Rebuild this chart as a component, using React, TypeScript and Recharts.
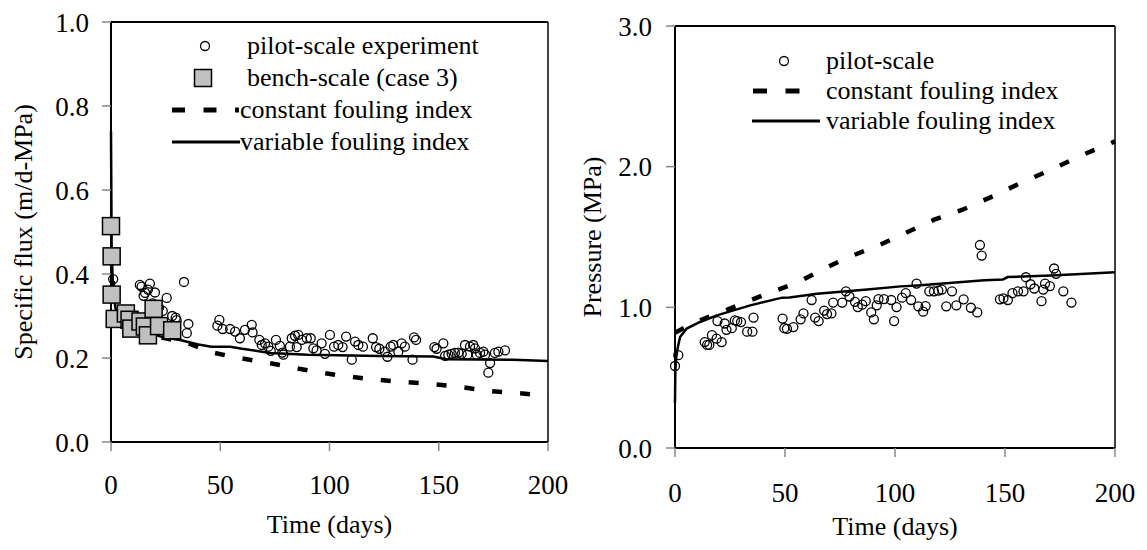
import React from 'react';
import { ComposedChart, Line, Scatter, XAxis, YAxis, ReferenceLine } from 'recharts';

const FONT = '"Liberation Serif", "Times New Roman", serif';

// ---- left panel: specific flux (days, m/d-MPa) ----
const fluxPilot: [number, number][] = [
    [1.0, 0.388], [13.2, 0.374], [14.0, 0.370], [14.9, 0.348], [15.6, 0.355], [16.9, 0.363], [17.8, 0.377],
    [19, 0.33], [20.1, 0.356], [22, 0.32], [23.7, 0.312], [25.5, 0.343], [28, 0.30], [29.6, 0.296], [30, 0.29],
    [33.4, 0.381], [34.7, 0.259], [35.4, 0.281], [48.7, 0.277], [49.6, 0.291], [51.1, 0.269], [54.5, 0.269],
    [56.8, 0.263], [59.0, 0.247], [61.3, 0.267], [64.4, 0.279], [64.8, 0.261], [67.9, 0.243], [69.0, 0.231],
    [70.5, 0.235], [72.0, 0.227], [73.1, 0.217], [75.5, 0.243], [77.3, 0.229], [78.4, 0.213], [78.9, 0.208],
    [81.9, 0.227], [82.7, 0.247], [84.2, 0.253], [85.0, 0.226], [85.7, 0.255], [87.3, 0.243], [89.6, 0.247],
    [91.4, 0.247], [92.6, 0.223], [94.1, 0.218], [96.4, 0.235], [97.9, 0.210], [100.2, 0.255], [102.1, 0.227],
    [104.0, 0.231], [106.0, 0.226], [107.6, 0.251], [110.2, 0.196], [111.7, 0.239], [113.2, 0.231], [115.3, 0.227],
    [119.8, 0.247], [121.3, 0.226], [122.8, 0.222], [125.4, 0.215], [126.5, 0.203], [128.0, 0.227], [129.2, 0.231],
    [131.5, 0.215], [133.0, 0.235], [134.5, 0.227], [138.0, 0.196], [138.7, 0.249], [139.6, 0.243], [148.0, 0.226],
    [149.0, 0.222], [152.1, 0.235], [152.9, 0.205], [154.4, 0.208], [155.9, 0.210], [157.4, 0.212], [159.0, 0.213],
    [160.5, 0.210], [162.0, 0.231], [163.1, 0.208], [164.3, 0.227], [165.8, 0.231], [166.6, 0.223], [167.4, 0.208],
    [168.9, 0.212], [170.4, 0.215], [171.2, 0.208], [172.7, 0.165], [173.5, 0.188], [175.7, 0.212], [177.3, 0.215],
    [180.3, 0.218],
];
const fluxBench: [number, number][] = [
    [0, 0.514], [0.3, 0.442], [0.3, 0.351], [1.7, 0.293], [6.8, 0.306], [8.5, 0.291], [9.3, 0.270],
    [13.5, 0.287], [15.5, 0.275], [16.9, 0.254], [19.5, 0.317], [22, 0.276], [28, 0.266],
];
const fluxConstant: [number, number][] = [
    [0.3, 0.45], [1, 0.36], [2, 0.32], [4, 0.30], [8, 0.28], [15, 0.262], [22, 0.250], [34.6, 0.237], [45, 0.215],
    [54.5, 0.204], [66.7, 0.193], [79.6, 0.181], [92.6, 0.168], [105.6, 0.158], [118.5, 0.150], [131, 0.144],
    [144.5, 0.139], [157.4, 0.133], [172, 0.122], [187, 0.116], [200, 0.110],
];
const fluxVariable: [number, number][] = [
    [0, 0.74], [0.3, 0.45], [1, 0.36], [2, 0.32], [4, 0.30], [8, 0.28], [15, 0.265], [20, 0.255], [25, 0.248],
    [31.6, 0.243], [40, 0.232], [46, 0.227], [54.5, 0.227], [60, 0.222], [72.8, 0.212], [90, 0.208], [123, 0.205],
    [147.5, 0.2035], [153.6, 0.197], [184, 0.196], [200, 0.193],
];

// ---- right panel: pressure (days, MPa) ----
const pressPilot: [number, number][] = [
    [0, 0.583], [1.5, 0.66], [13.5, 0.753], [14.6, 0.733], [15.6, 0.733], [16.8, 0.802], [18.9, 0.777], [19.3, 0.902],
    [21.2, 0.753], [22.6, 0.885], [23.4, 0.84], [25.8, 0.852], [27.2, 0.907], [28.3, 0.902], [30, 0.895], [32.8, 0.827],
    [35.2, 0.827], [35.7, 0.927], [48.9, 0.92], [49.7, 0.852], [50.9, 0.847], [53.8, 0.86], [57.1, 0.915], [58.4, 0.957],
    [62.1, 1.052], [63.7, 0.927], [65.3, 0.902], [67.8, 0.977], [69.1, 0.952], [71.1, 0.957], [71.9, 1.034], [76, 1.034],
    [77.7, 1.114], [79.3, 1.077], [81.8, 1.039], [83.1, 1.002], [85.1, 1.019], [86.7, 1.044], [89.2, 0.964], [90.4, 0.915],
    [91.7, 1.014], [92.5, 1.059], [95, 1.059], [98.3, 1.052], [99.6, 0.902], [100.7, 1.002], [103.2, 1.069], [104.9, 1.101],
    [107.3, 1.052], [109.8, 1.169], [110.6, 1.007], [112.8, 0.969], [113.9, 1.009], [115.6, 1.114], [117.7, 1.114],
    [119.7, 1.119], [121.3, 1.126], [123.3, 1.007], [125.9, 1.114], [127.9, 1.014], [131.2, 1.057], [134.5, 0.997],
    [137.4, 0.964], [138.6, 1.443], [139.4, 1.368], [147.7, 1.057], [149.3, 1.064], [151.3, 1.052], [153.4, 1.101],
    [155.9, 1.114], [158.4, 1.114], [159.5, 1.214], [161.6, 1.164], [163.3, 1.134], [166.6, 1.044], [167.4, 1.126],
    [168.2, 1.169], [170.4, 1.151], [172.3, 1.276], [173.2, 1.238], [176.5, 1.114], [180.2, 1.034],
];
const pressConstant: [number, number][] = [
    [0, 0.82], [5, 0.86], [11.4, 0.908], [26.6, 1.002], [41.8, 1.097], [56.2, 1.18], [66.9, 1.268], [79, 1.358],
    [92.7, 1.441], [105.7, 1.535], [117.8, 1.623], [130.7, 1.694], [144.4, 1.789], [156.5, 1.879], [171, 1.979],
    [184.7, 2.08], [200, 2.18],
];
const pressVariable: [number, number][] = [
    [0, 0.32], [0.15, 0.55], [0.6, 0.65], [1.2, 0.71], [2.3, 0.789], [5.3, 0.849], [11.4, 0.896], [19, 0.943],
    [34.2, 1.014], [48.7, 1.069], [52, 1.07], [64.6, 1.097], [87.4, 1.126], [102.6, 1.149], [110.2, 1.156],
    [140.6, 1.192], [149, 1.197], [151.2, 1.215], [171, 1.227], [200, 1.25],
];

const xTicks = [0, 50, 100, 150, 200];
const fluxTicks = [0, 0.2, 0.4, 0.6, 0.8, 1.0];
const pressTicks = [0, 1, 2, 3];

const fluxLegend = ['pilot-scale experiment', 'bench-scale (case 3)', 'constant fouling index', 'variable fouling index'];
const pressLegend = ['pilot-scale', 'constant fouling index', 'variable fouling index'];

const toPts = (arr: [number, number][]) => arr.map(([x, y]) => ({ x, y }));

const tickStyle = { fill: '#000', fontSize: 27, fontFamily: FONT };
const axisLine = { stroke: '#000', strokeWidth: 2 };
const tickLine = { stroke: '#888', strokeWidth: 1.5 };

const OpenCircle = (p: any) => (
    <circle cx={p.cx} cy={p.cy} r={4.5} fill="none" stroke="#000" strokeWidth={1.3} />
);
const GraySquare = (p: any) => (
    <rect x={p.cx - 8.5} y={p.cy - 8.5} width={17} height={17} fill="#c0c0c0" stroke="#000" strokeWidth={1.5} />
);

const DASH = '10 18';

const FluxChart = () => (
    <ComposedChart width={580} height={550} margin={{ top: 22, right: 32, left: 0, bottom: 0 }}>
        <XAxis
            type="number"
            dataKey="x"
            domain={[0, 200]}
            ticks={xTicks}
            tick={tickStyle}
            tickSize={9}
            tickMargin={24}
            height={108}
            axisLine={axisLine}
            tickLine={tickLine}
            label={{ value: 'Time (days)', position: 'insideBottom', offset: 17, fill: '#000', fontSize: 26, fontFamily: FONT }}
        />
        <YAxis
            type="number"
            dataKey="y"
            domain={[0, 1]}
            ticks={fluxTicks}
            tickFormatter={(v: number) => v.toFixed(1)}
            tick={tickStyle}
            tickSize={9}
            tickMargin={13}
            width={111}
            axisLine={axisLine}
            tickLine={tickLine}
            label={{ value: 'Specific flux (m/d-MPa)', angle: -90, position: 'insideLeft', offset: 23, fill: '#000', fontSize: 26, fontFamily: FONT, style: { textAnchor: 'middle' } }}
        />
        <ReferenceLine y={1} stroke="#000" strokeWidth={2} />
        <ReferenceLine x={200} stroke="#000" strokeWidth={1.5} />
        <Line data={toPts(fluxConstant)} dataKey="y" type="linear" stroke="#000" strokeWidth={4.5} strokeDasharray={DASH} dot={false} isAnimationActive={false} />
        <Line data={toPts(fluxVariable)} dataKey="y" type="linear" stroke="#000" strokeWidth={2.5} dot={false} isAnimationActive={false} />
        <Scatter data={toPts(fluxPilot)} dataKey="y" shape={OpenCircle} isAnimationActive={false} />
        <Scatter data={toPts(fluxBench)} dataKey="y" shape={GraySquare} isAnimationActive={false} />
    </ComposedChart>
);

const PressureChart = () => (
    <ComposedChart width={587} height={550} margin={{ top: 26, right: 32, left: 0, bottom: 0 }}>
        <XAxis
            type="number"
            dataKey="x"
            domain={[0, 200]}
            ticks={xTicks}
            tick={tickStyle}
            tickSize={9}
            tickMargin={26}
            height={102}
            axisLine={axisLine}
            tickLine={tickLine}
            label={{ value: 'Time (days)', position: 'insideBottom', offset: 15, fill: '#000', fontSize: 26, fontFamily: FONT }}
        />
        <YAxis
            type="number"
            dataKey="y"
            domain={[0, 3]}
            ticks={pressTicks}
            tickFormatter={(v: number) => v.toFixed(1)}
            tick={tickStyle}
            tickSize={9}
            tickMargin={14}
            width={115}
            axisLine={axisLine}
            tickLine={tickLine}
            label={{ value: 'Pressure (MPa)', angle: -90, position: 'insideLeft', offset: 32, fill: '#000', fontSize: 26, fontFamily: FONT, style: { textAnchor: 'middle' } }}
        />
        <ReferenceLine y={3} stroke="#000" strokeWidth={2} />
        <ReferenceLine x={200} stroke="#000" strokeWidth={1.5} />
        <Line data={toPts(pressConstant)} dataKey="y" type="linear" stroke="#000" strokeWidth={4.5} strokeDasharray={DASH} dot={false} isAnimationActive={false} />
        <Line data={toPts(pressVariable)} dataKey="y" type="linear" stroke="#000" strokeWidth={2.5} dot={false} isAnimationActive={false} />
        <Scatter data={toPts(pressPilot)} dataKey="y" shape={OpenCircle} isAnimationActive={false} />
    </ComposedChart>
);

const legendText = { fontFamily: FONT, fontSize: 26, fill: '#000' };

const FluxLegend = () => (
    <svg width={580} height={170} style={{ position: 'absolute', left: 0, top: 0, pointerEvents: 'none' }}>
        <circle cx={205} cy={46} r={4.5} fill="none" stroke="#000" strokeWidth={1.3} />
        <rect x={194.5} y={69.5} width={17} height={17} fill="#c0c0c0" stroke="#000" strokeWidth={1.5} />
        <line x1={172} y1={110} x2={239} y2={110} stroke="#000" strokeWidth={5} strokeDasharray="13 18.5" />
        <line x1={172} y1={142} x2={240} y2={142} stroke="#000" strokeWidth={3} />
        <text x={247} y={54} {...legendText}>{fluxLegend[0]}</text>
        <text x={247} y={86} {...legendText}>{fluxLegend[1]}</text>
        <text x={240} y={118} {...legendText}>{fluxLegend[2]}</text>
        <text x={240} y={150} {...legendText}>{fluxLegend[3]}</text>
    </svg>
);

const PressureLegend = () => (
    <svg width={587} height={170} style={{ position: 'absolute', left: 560, top: 0, pointerEvents: 'none' }}>
        <circle cx={224} cy={61} r={4.5} fill="none" stroke="#000" strokeWidth={1.3} />
        <line x1={193} y1={91} x2={258} y2={91} stroke="#000" strokeWidth={5} strokeDasharray="14 18.5" />
        <line x1={192} y1={121} x2={260} y2={121} stroke="#000" strokeWidth={3} />
        <text x={266} y={69} {...legendText}>{pressLegend[0]}</text>
        <text x={266} y={99} {...legendText}>{pressLegend[1]}</text>
        <text x={266} y={129} {...legendText}>{pressLegend[2]}</text>
    </svg>
);

export default function App() {
    return (
        <div style={{ position: 'absolute', left: 0, top: 0, width: 1147, height: 550, background: '#fff', fontFamily: FONT }}>
            <div style={{ position: 'absolute', left: 0, top: 0 }}>
                <FluxChart />
            </div>
            <div style={{ position: 'absolute', left: 560, top: 0 }}>
                <PressureChart />
            </div>
            <FluxLegend />
            <PressureLegend />
        </div>
    );
}
